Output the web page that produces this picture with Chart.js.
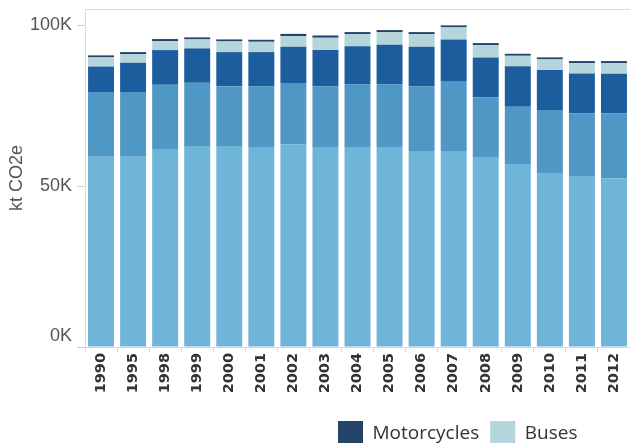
<!DOCTYPE html>
<html>
<head>
<meta charset="utf-8">
<script src="https://cdn.jsdelivr.net/npm/chart.js@4"></script>
<style>
  html, body { margin: 0; padding: 0; background: #fff; overflow: hidden; }
  #wrap { position: relative; width: 630px; height: 456px; }
</style>
</head>
<body>
<div id="wrap"><canvas id="chart"></canvas></div>
<script>
const years = ["1990", "1995", "1998", "1999", "2000", "2001", "2002", "2003", "2004",
  "2005", "2006", "2007", "2008", "2009", "2010", "2011", "2012"];

// kt CO2e (bottom of the stack first)
const passengerCars = [59100, 59100, 61270, 62420, 62420, 61900, 62950, 61900, 61900,
  61900, 60650, 60650, 59010, 56830, 54040, 52890, 52390];
const lightTrucks = [20090, 20090, 20190, 19660, 18540, 19070, 19100, 19010, 19630,
  19630, 20250, 21960, 18570, 17800, 19570, 19690, 20190];
const heavyTrucks = [7920, 9100, 10780, 10680, 10650, 10650, 11210, 11340, 11860,
  12360, 12360, 12950, 12390, 12550, 12420, 12420, 12300];
const buses = [2860, 2700, 2800, 2800, 3320, 3200, 3320, 3820, 3820,
  3940, 3940, 3730, 3820, 3290, 3320, 3200, 3320];
const motorcycles = [620, 620, 620, 620, 620, 620, 700, 700, 620,
  620, 620, 620, 620, 620, 620, 620, 620];

const yTicks = [0, 50000, 100000];

function ds(label, data, color) {
  return {
    label: label,
    data: data,
    backgroundColor: color,
    borderWidth: 0,
    barPercentage: 0.81,
    categoryPercentage: 1
  };
}

// move the legend to where it sits in the reference
const legendShift = {
  id: "legendShift",
  afterLayout(chart) {
    if (chart.legend) {
      chart.legend.left = 327;
      chart.legend.right = 630;
    }
  }
};

new Chart(document.getElementById("chart"), {
  type: "bar",
  data: {
    labels: years,
    datasets: [
      ds("Passenger Cars", passengerCars, "#6eb5d8"),
      ds("Light Trucks", lightTrucks, "#4f97c4"),
      ds("Heavy Trucks", heavyTrucks, "#1c5d9e"),
      ds("Buses", buses, "#b4d5db"),
      ds("Motorcycles", motorcycles, "#25426b")
    ]
  },
  options: {
    responsive: true,
    maintainAspectRatio: false,
    animation: false,
    layout: { padding: { top: 9, left: 0, right: 0, bottom: 0 } },
    plugins: {
      tooltip: { enabled: false },
      legend: {
        position: "bottom",
        align: "start",
        labels: {
          boxWidth: 25,
          boxHeight: 25,
          padding: 11,
          color: "#333",
          font: { family: "'Open Sans', sans-serif", size: 19 },
          sort: (a, b) => b.datasetIndex - a.datasetIndex,
          filter: item => item.datasetIndex >= 3
        }
      }
    },
    scales: {
      x: {
        stacked: true,
        grid: {
          offset: true,
          drawOnChartArea: false,
          drawTicks: true,
          tickLength: 5,
          color: "#d9d9d9"
        },
        border: { display: true, color: "#d9d9d9" },
        ticks: {
          minRotation: 90,
          maxRotation: 90,
          padding: 1,
          color: "#333",
          font: { family: "'DejaVu Sans', sans-serif", size: 14.5, weight: "bold" }
        },
        afterFit: s => {
          s.height = 63;
          s.paddingLeft = 0;
          s.paddingRight = 0;
        }
      },
      xTop: {
        type: "category",
        position: "top",
        grid: { display: false, drawTicks: false },
        ticks: { display: false },
        border: { display: true, color: "#dcdcdc" },
        afterFit: s => { s.height = 0; }
      },
      y: {
        stacked: true,
        min: 0,
        max: 105000,
        afterBuildTicks: s => { s.ticks = yTicks.map(v => ({ value: v })); },
        grid: {
          drawOnChartArea: false,
          drawTicks: true,
          tickLength: 8,
          color: "#cfcfcf"
        },
        border: { display: true, color: "#dcdcdc" },
        ticks: {
          padding: 5,
          color: "#555",
          font: { family: "'Liberation Sans', Arial, sans-serif", size: 18 },
          // the 0K label sits just above the axis, as in the reference
          callback: v => v === 0 ? ["0K", ""] : (v / 1000) + "K"
        },
        title: {
          display: true,
          text: "kt CO2e",
          color: "#555",
          padding: { top: 6, bottom: 4 },
          font: { family: "'Liberation Sans', Arial, sans-serif", size: 18 }
        },
        afterFit: s => {
          s.width = 85;
          s.paddingTop = 0;
          s.paddingBottom = 0;
        }
      }
    }
  },
  plugins: [legendShift]
});
</script>
</body>
</html>
